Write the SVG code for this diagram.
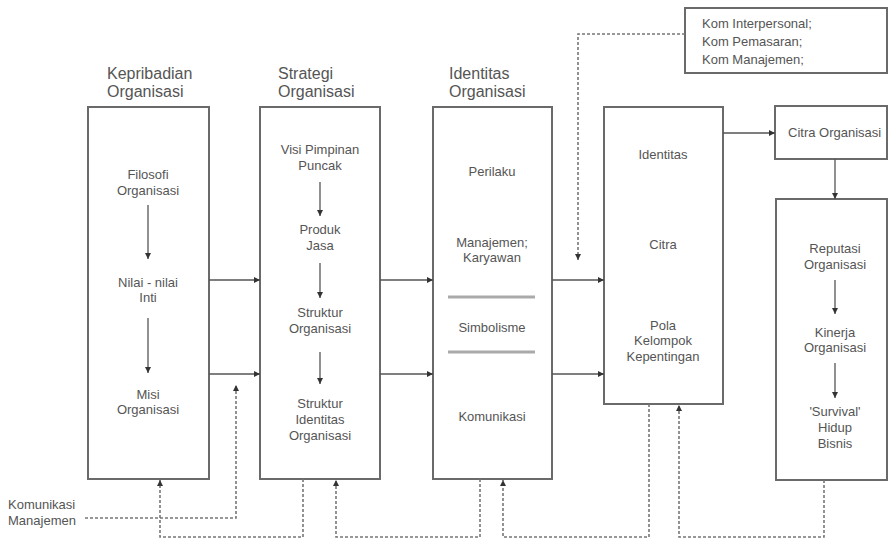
<svg xmlns="http://www.w3.org/2000/svg" width="890" height="539" viewBox="0 0 890 539">
<style>
.box{fill:#fff;stroke:#6a6a6a;stroke-width:2}
.t{font-family:"Liberation Sans",Arial,sans-serif;font-size:13px;fill:#555;text-anchor:middle}
.h{font-family:"Liberation Sans",Arial,sans-serif;font-size:16px;fill:#555}
.l{font-family:"Liberation Sans",Arial,sans-serif;font-size:13px;fill:#555}
.a{stroke:#555;stroke-width:1.3;fill:none}
.d{stroke:#777;stroke-width:1.6;fill:none;stroke-dasharray:3 2}
.sep{stroke:#aaa;stroke-width:3}
</style>
<defs>
<marker id="ah" viewBox="0 0 8 8" refX="8" refY="4" markerWidth="6" markerHeight="6" orient="auto" markerUnits="userSpaceOnUse">
<path d="M0,0 L8,4 L0,8 z" fill="#333"/>
</marker>
</defs>
<rect width="890" height="539" fill="#fff"/>

<g id="kepribadian">
<text class="h" x="107" y="79">Kepribadian</text>
<text class="h" x="107" y="97">Organisasi</text>
<rect class="box" x="88" y="107" width="121" height="372"/>
<text class="t" x="148" y="179">Filosofi</text>
<text class="t" x="148" y="195">Organisasi</text>
<text class="t" x="148" y="287">Nilai - nilai</text>
<text class="t" x="148" y="302">Inti</text>
<text class="t" x="148" y="399">Misi</text>
<text class="t" x="148" y="414">Organisasi</text>
</g>

<g id="strategi">
<text class="h" x="278" y="79">Strategi</text>
<text class="h" x="278" y="97">Organisasi</text>
<rect class="box" x="260" y="107" width="120" height="372"/>
<text class="t" x="320" y="154">Visi Pimpinan</text>
<text class="t" x="320" y="170">Puncak</text>
<text class="t" x="320" y="234">Produk</text>
<text class="t" x="320" y="250">Jasa</text>
<text class="t" x="320" y="317">Struktur</text>
<text class="t" x="320" y="333">Organisasi</text>
<text class="t" x="320" y="408">Struktur</text>
<text class="t" x="320" y="424">Identitas</text>
<text class="t" x="320" y="440">Organisasi</text>
</g>

<g id="identitas">
<text class="h" x="449" y="79">Identitas</text>
<text class="h" x="449" y="97">Organisasi</text>
<rect class="box" x="433" y="107" width="119" height="372"/>
<text class="t" x="492" y="176">Perilaku</text>
<text class="t" x="492" y="247">Manajemen;</text>
<text class="t" x="492" y="262">Karyawan</text>
<line class="sep" x1="448" y1="297" x2="535" y2="297"/>
<text class="t" x="492" y="332">Simbolisme</text>
<line class="sep" x1="448" y1="352" x2="535" y2="352"/>
<text class="t" x="492" y="421">Komunikasi</text>
</g>

<g id="citra-box">
<rect class="box" x="604" y="107" width="119" height="297"/>
<text class="t" x="663" y="159">Identitas</text>
<text class="t" x="663" y="249">Citra</text>
<text class="t" x="663" y="330">Pola</text>
<text class="t" x="663" y="345">Kelompok</text>
<text class="t" x="663" y="361">Kepentingan</text>
</g>

<g id="kom">
<rect class="box" x="685" y="8" width="202" height="65"/>
<text class="l" x="702" y="28">Kom Interpersonal;</text>
<text class="l" x="702" y="46">Kom Pemasaran;</text>
<text class="l" x="702" y="64">Kom Manajemen;</text>
</g>

<g id="citra-organisasi">
<rect class="box" x="775" y="106" width="112" height="53"/>
<text class="l" x="788" y="137">Citra Organisasi</text>
</g>

<g id="reputasi">
<rect class="box" x="776" y="199" width="111" height="281"/>
<text class="t" x="835" y="253">Reputasi</text>
<text class="t" x="835" y="269">Organisasi</text>
<text class="t" x="835" y="337">Kinerja</text>
<text class="t" x="835" y="352">Organisasi</text>
<text class="t" x="835" y="416">'Survival'</text>
<text class="t" x="835" y="432">Hidup</text>
<text class="t" x="835" y="448">Bisnis</text>
</g>

<g id="komunikasi-manajemen">
<text class="l" x="8" y="509">Komunikasi</text>
<text class="l" x="8" y="525">Manajemen</text>
</g>

<g id="connectors">
<line class="a" x1="148" y1="205" x2="148" y2="259" marker-end="url(#ah)"/>
<line class="a" x1="148" y1="318" x2="148" y2="373" marker-end="url(#ah)"/>
<line class="a" x1="320" y1="182" x2="320" y2="216" marker-end="url(#ah)"/>
<line class="a" x1="320" y1="263" x2="320" y2="298" marker-end="url(#ah)"/>
<line class="a" x1="320" y1="352" x2="320" y2="384" marker-end="url(#ah)"/>
<line class="a" x1="835" y1="280" x2="835" y2="314" marker-end="url(#ah)"/>
<line class="a" x1="835" y1="363" x2="835" y2="398" marker-end="url(#ah)"/>

<line class="a" x1="209" y1="280" x2="260" y2="280" marker-end="url(#ah)"/>
<line class="a" x1="209" y1="374" x2="260" y2="374" marker-end="url(#ah)"/>
<line class="a" x1="380" y1="280" x2="433" y2="280" marker-end="url(#ah)"/>
<line class="a" x1="380" y1="374" x2="433" y2="374" marker-end="url(#ah)"/>
<line class="a" x1="552" y1="280" x2="604" y2="280" marker-end="url(#ah)"/>
<line class="a" x1="552" y1="374" x2="604" y2="374" marker-end="url(#ah)"/>
<line class="a" x1="723" y1="133" x2="775" y2="133" marker-end="url(#ah)"/>
<line class="a" x1="835" y1="159" x2="835" y2="199" marker-end="url(#ah)"/>

<polyline class="d" points="685,34 578,34 578,260" marker-end="url(#ah)"/>
<polyline class="d" points="85,518 236,518 236,385" marker-end="url(#ah)"/>

<polyline class="d" points="303,479 303,537 160,537 160,480" marker-end="url(#ah)"/>
<polyline class="d" points="480,479 480,537 336,537 336,480" marker-end="url(#ah)"/>
<polyline class="d" points="649,404 649,537 503,537 503,480" marker-end="url(#ah)"/>
<polyline class="d" points="824,480 824,537 679,537 679,405" marker-end="url(#ah)"/>
</g>
</svg>
